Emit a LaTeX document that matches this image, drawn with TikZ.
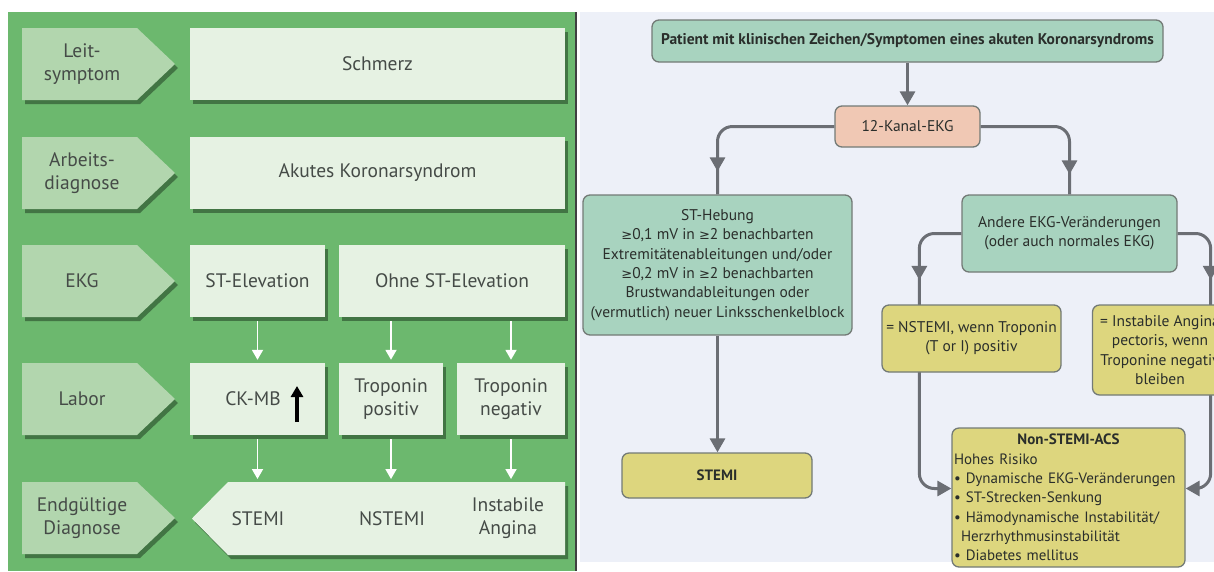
\documentclass[tikz,border=0pt]{standalone}
\usepackage{fontspec}
\setmainfont{PT Sans}
\newfontfamily\symfont{DejaVu Sans}
\newcommand\gsym{{\symfont\fontsize{13}{13}\selectfont ≥}}
\usetikzlibrary{arrows.meta,shadows,calc,decorations.markings}
\definecolor{gbg}{HTML}{6CB86E}
\definecolor{labfill}{HTML}{B2D6AE}
\definecolor{cfill}{HTML}{E6F2E3}
\definecolor{shgreen}{HTML}{355F37}
\definecolor{ltext}{HTML}{454B47}
\definecolor{rbg}{HTML}{EDF0F8}
\definecolor{mint}{HTML}{A8D3BF}
\definecolor{salmon}{HTML}{F0C8B4}
\definecolor{yel}{HTML}{DDD67E}
\definecolor{bord}{HTML}{737A76}
\definecolor{conn}{HTML}{6B6E74}
\definecolor{rtext}{HTML}{2A2E2B}
\tikzset{
  shad/.style={drop shadow={shadow xshift=3pt,shadow yshift=-4pt,fill=shgreen,opacity=.75}},
  labshape/.style={fill=labfill,shad},
  cbox/.style={fill=cfill,shad,minimum height=72pt,inner sep=0pt,align=center,text=ltext,font=\fontsize{19.5}{23}\selectfont},
  ltxt/.style={align=center,text=ltext,inner sep=0pt,font=\fontsize{19.5}{23}\selectfont},
  warr/.style={white,line width=1.8pt,-{Triangle[width=11pt,length=10pt]},shorten <=4pt,shorten >=3pt},
  rbox/.style={rounded corners=7pt,draw=bord,line width=1.3pt,align=center,inner sep=0pt,text=rtext,font=\fontsize{15.5}{19.3}\selectfont},
  gline/.style={draw=conn,line width=3pt,rounded corners=15pt},
  garrow/.style={gline,-{Triangle[width=15pt,length=14pt]}},
  midarrow/.style={postaction={decorate},decoration={markings,mark=at position #1 with {\arrow[conn]{Triangle[width=15pt,length=14pt]}}}}
}
\begin{document}
\begin{tikzpicture}[x=1pt,y=-1pt]
\useasboundingbox (0,0) rectangle (1214,571);
\fill[white] (0,0) rectangle (1214,571);
% ---------------- left panel
\fill[gbg] (8,12) rectangle (575,571);
\draw[black!75,line width=2pt] (576,12) -- (576,571);
\foreach \t/\txt [count=\i] in {28/{Leit-\\symptom},137/{Arbeits-\\diagnose},245/{EKG},363/{Labor},482/{Endgültige\\Diagnose}}{
  \path[labshape] (22,\t) -- (137,\t) -- (175,\t+36) -- (137,\t+72) -- (22,\t+72) -- cycle;
  \node[ltxt] (lab\i) at (82,\t+36) {\txt};
}
\node[cbox,minimum width=375pt] (schmerz) at (377.5,64) {Schmerz};
\node[cbox,minimum width=375pt] (aks) at (377.5,173) {Akutes Koronarsyndrom};
\node[cbox,minimum width=135pt] (stel) at (257.5,281) {ST-Elevation};
\node[cbox,minimum width=226pt] (ohne) at (452,281) {Ohne ST-Elevation};
\node[cbox,minimum width=135pt] (ckmb) at (257.5,399) {};
\node[ltxt] (ckmbtxt) at (253,399) {CK-MB};
\coordinate (ckup) at (297,386);
\coordinate (ckdn) at (297,422);
\draw[black,line width=3.2pt,-{Triangle[width=12pt,length=11pt]}] (ckdn) -- (ckup);
\node[cbox,minimum width=104pt] (tpos) at (391,399) {Troponin\\positiv};
\node[cbox,minimum width=108pt] (tneg) at (511,399) {Troponin\\negativ};
\path[fill=cfill,shad] (228,482) -- (565,482) -- (565,555) -- (228,555) -- (192,518.5) -- cycle;
\node[ltxt] (fstemi) at (258,518.5) {STEMI};
\node[ltxt] (fnstemi) at (392,518.5) {NSTEMI};
\node[ltxt] (finst) at (508,518.5) {Instabile\\Angina};
\coordinate (ftop) at (0,482);
\draw[warr] (stel.south) -- (ckmb.north);
\draw[warr] (ohne.south -| tpos) -- (tpos.north);
\draw[warr] (ohne.south -| tneg) -- (tneg.north);
\draw[warr] (ckmb.south) -- (ckmb.south |- ftop);
\draw[warr] (tpos.south) -- (tpos.south |- ftop);
\draw[warr] (tneg.south) -- (tneg.south |- ftop);
% ---------------- right panel
\fill[rbg] (580,12) rectangle (1214,562);
\node[rbox,fill=mint,minimum width=511pt,minimum height=42pt,font=\bfseries\fontsize{15.5}{18}\selectfont] (top) at (907.5,41) {Patient mit klinischen Zeichen/Symptomen eines akuten Koronarsyndroms};
\node[rbox,fill=salmon,minimum width=145pt,minimum height=41pt] (ekg) at (907.5,126.5) {12-Kanal-EKG};
\node[rbox,fill=mint,minimum width=269pt,minimum height=140pt] (sth) at (717.5,265) {ST-Hebung\\\gsym0,1 mV in \gsym2 benachbarten\\Extremitätenableitungen und/oder\\\gsym0,2 mV in \gsym2 benachbarten\\Brustwandableitungen oder\\(vermutlich) neuer Linksschenkelblock};
\node[rbox,fill=yel,minimum width=190pt,minimum height=45pt,font=\bfseries\fontsize{15}{17}\selectfont] (stemi) at (717,475.5) {STEMI};
\node[rbox,fill=mint,minimum width=215pt,minimum height=77pt] (andere) at (1069.5,233.5) {Andere EKG-Veränderungen\\(oder auch normales EKG)};
\node[rbox,fill=yel,minimum width=233pt,minimum height=139pt,text width=229pt,align=left,font=\fontsize{15}{19.3}\selectfont] (nonst) at (1068.5,497.5) {{\centering\bfseries Non-STEMI-ACS\par}Hohes Risiko\\• Dynamische EKG-Veränderungen\\• ST-Strecken-Senkung\\• Hämodynamische Instabilität/\\\hspace*{7pt}Herzrhythmusinstabilität\\• Diabetes mellitus};
% connectors
\draw[garrow] (top.south) -- (ekg.north);
\draw[gline,midarrow=-23pt] (ekg.west) -| (sth.north);
\draw[gline,midarrow=-20pt] (ekg.east) -| (andere.north);
\draw[garrow] (sth.south) -- (sth.south |- stemi.north);
\draw[garrow,midarrow=82pt] (andere.west) -| ([xshift=-32pt,yshift=9pt]nonst.west) -- ([yshift=9pt]nonst.west);
\begin{scope}
\clip (580,12) rectangle (1214,571);
\draw[garrow,midarrow=73pt] (andere.east) -| ([xshift=25pt,yshift=9pt]nonst.east) -- ([yshift=9pt]nonst.east);
\node[rbox,fill=yel,minimum width=179pt,minimum height=67pt] (nstemi) at (971.5,338.5) {= NSTEMI, wenn Troponin\\(T or I) positiv};
\node[rbox,fill=yel,minimum width=135pt,minimum height=90pt] (instab) at (1160,350) {= Instabile Angina\\pectoris, wenn\\Troponine negativ\\bleiben};
\end{scope}
\end{tikzpicture}
\end{document}
